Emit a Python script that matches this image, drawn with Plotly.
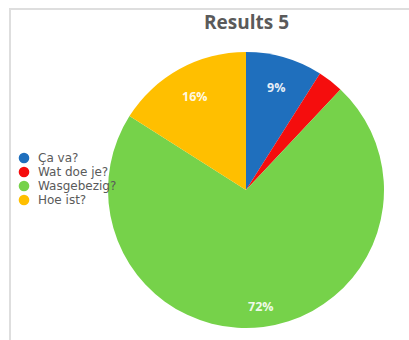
import math
import plotly.graph_objects as go

# Survey answers and their shares (percent)
labels = ["Ça va?", "Wat doe je?", "Wasgebezig?", "Hoe ist?"]
values = [9, 3, 72, 16]
colors = ["#1f6fbd", "#f50d0d", "#76d24a", "#ffbf00"]
title_text = "Results 5"

W, H = 409, 340
cx_px, cy_px, r_px = 246, 190, 138  # pie centre / radius in pixels

fig = go.Figure()
fig.add_trace(go.Pie(
    labels=labels,
    values=values,
    sort=False,
    direction="clockwise",
    rotation=0,
    marker=dict(colors=colors, line=dict(width=0)),
    textinfo="none",
    hoverinfo="label+percent",
    showlegend=False,
    domain=dict(x=[(cx_px - r_px) / W, (cx_px + r_px) / W],
                y=[(H - cy_px - r_px) / H, (H - cy_px + r_px) / H]),
))

annotations = []
shapes = []

# percentage labels inside the slices (small slices left unlabeled)
total = sum(values)
cum = 0
for v in values:
    mid = (cum + v / 2) / total * 2 * math.pi
    cum += v
    pct = round(v / total * 100)
    if pct < 5:
        continue
    f = 0.77 if pct < 50 else 0.85
    px = cx_px + r_px * f * math.sin(mid)
    py = cy_px - r_px * f * math.cos(mid)
    annotations.append(dict(
        x=px / W, y=1 - py / H, xref="paper", yref="paper",
        xanchor="center", yanchor="middle",
        text=f"{pct}%", showarrow=False,
        font=dict(family="Open Sans", size=12.5, color="rgba(255,255,255,0.9)",
                  weight="bold"),
    ))

# legend on the left: coloured dots with labels
leg_x, leg_y0, leg_dy, dot_r = 24, 158, 14, 5.3
for i, (lab, col) in enumerate(zip(labels, colors)):
    yy = leg_y0 + i * leg_dy
    shapes.append(dict(
        type="circle", xref="paper", yref="paper", layer="above",
        x0=(leg_x - dot_r) / W, x1=(leg_x + dot_r) / W,
        y0=1 - (yy + dot_r) / H, y1=1 - (yy - dot_r) / H,
        fillcolor=col, line=dict(width=0),
    ))
    annotations.append(dict(
        x=36 / W, y=1 - yy / H, xref="paper", yref="paper",
        text=lab, showarrow=False, xanchor="left", yanchor="middle",
        font=dict(family="DejaVu Sans", size=12, color="#5a5a5a"),
    ))

# title
annotations.append(dict(
    x=cx_px / W, y=1 - 22 / H, xref="paper", yref="paper",
    text=f"<b>{title_text}</b>", showarrow=False, xanchor="center", yanchor="middle",
    font=dict(family="Open Sans", size=19, color="#5a5a5a"),
))

# light frame around the chart area
shapes.append(dict(type="rect", xref="paper", yref="paper",
                   x0=10 / W, x1=1.05, y0=-0.05, y1=1 - 9 / H,
                   line=dict(color="#dedede", width=2), layer="below"))

fig.update_layout(
    width=W, height=H,
    margin=dict(l=0, r=0, t=0, b=0),
    paper_bgcolor="white",
    plot_bgcolor="white",
    annotations=annotations,
    shapes=shapes,
)

fig.write_html("out.html")
